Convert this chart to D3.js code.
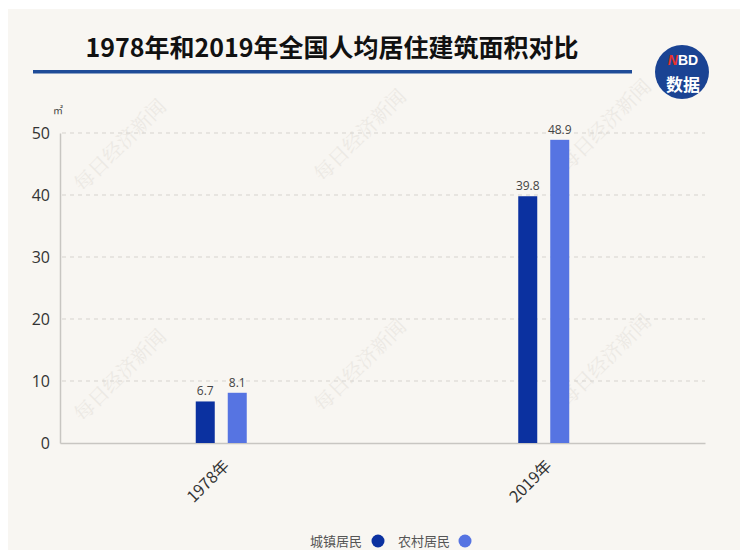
<!DOCTYPE html>
<html><head><meta charset="utf-8">
<script src="https://cdn.jsdelivr.net/npm/d3@7/dist/d3.min.js"></script>
<style>body{margin:0;background:#fff;}svg{display:block;}</style>
</head><body>
<script>
const categories = ["1978年", "2019年"];
const seriesNames = ["城镇居民", "农村居民"];
const urban = [6.7, 39.8];
const rural = [8.1, 48.9];
const yTicks = [0, 10, 20, 30, 40, 50];
const colors = ["#0b31a0", "#5674e2"];

(function () {
const W = 740, H = 550;
const svg = d3.select("body").append("svg").attr("width", W).attr("height", H);
svg.append("rect").attr("x", 8).attr("y", 9).attr("width", W - 8).attr("height", H - 9).attr("fill", "#f8f6f2");

const font = "'Noto Sans CJK SC','Noto Sans',sans-serif";
const pLeft = 60, pRight = 705, pTop = 133, pBottom = 443;
const x = d3.scaleBand().domain(categories).range([pLeft, pRight]);
const y = d3.scaleLinear().domain([0, 50]).range([pBottom, pTop]);

// watermarks
const wm = [[125,150],[365,140],[610,130],[125,380],[365,370],[610,365]];
wm.forEach(([wx, wy]) => {
  svg.append("text").attr("transform", `translate(${wx},${wy}) rotate(-45)`)
    .attr("text-anchor", "middle").attr("font-family", "'Noto Serif CJK SC','Noto Sans CJK SC',serif")
    .attr("font-size", 20).attr("fill", "#ece9e4").text("每日经济新闻");
});

// title
svg.append("text").attr("x", 332).attr("y", 57).attr("text-anchor", "middle")
  .attr("font-family", font).attr("font-weight", "bold").attr("font-size", 25).attr("fill", "#111")
  .text("1978年和2019年全国人均居住建筑面积对比");
svg.append("rect").attr("x", 33).attr("y", 70).attr("width", 599).attr("height", 3.5).attr("fill", "#1f4c98");

// logo
svg.append("circle").attr("cx", 682).attr("cy", 72).attr("r", 27).attr("fill", "#1a4393");
const nbd = svg.append("text").attr("x", 683).attr("y", 65).attr("text-anchor", "middle")
  .attr("font-family", "'Liberation Sans',Arial,sans-serif").attr("font-weight", "bold").attr("font-size", 14);
nbd.append("tspan").attr("fill", "#e8332c").attr("font-style", "italic").text("N");
nbd.append("tspan").attr("fill", "#fff").text("BD");
svg.append("text").attr("x", 683).attr("y", 91).attr("text-anchor", "middle").attr("font-family", font)
  .attr("font-weight", "bold").attr("font-size", 17).attr("fill", "#fff").text("数据");

// grid
svg.append("g").selectAll("line").data(yTicks.filter(d => d > 0)).join("line")
  .attr("x1", pLeft + 2).attr("x2", pRight).attr("y1", d => y(d)).attr("y2", d => y(d))
  .attr("stroke", "#d6d3ce").attr("stroke-dasharray", "4,4").attr("stroke-width", 1);

// y axis
const yAxis = d3.axisLeft(y).tickValues(yTicks).tickSize(0).tickPadding(10);
const ya = svg.append("g").attr("transform", `translate(${pLeft},0)`).call(yAxis);
ya.select(".domain").attr("stroke", "#c8c6c2").attr("stroke-width", 1.5);
ya.selectAll("text").attr("font-family", "'Open Sans','Noto Sans',sans-serif").attr("font-size", 16).attr("fill", "#333");
svg.append("text").attr("x", 53).attr("y", 114).attr("font-family", font).attr("font-size", 10).attr("fill", "#444").text("㎡");

// x axis
const xAxis = d3.axisBottom(x).tickSize(0).tickPadding(0);
const xa = svg.append("g").attr("transform", `translate(0,${pBottom})`).call(xAxis);
xa.select(".domain").attr("stroke", "#c8c6c2").attr("stroke-width", 1.5);
xa.selectAll("text").attr("font-family", font).attr("font-size", 16).attr("fill", "#333")
  .attr("text-anchor", "end").attr("x", 0).attr("y", 0).attr("dy", 0)
  .attr("transform", "translate(9,24) rotate(-45)");

// bars
const barW = 19, gap = 13;
[urban, rural].forEach((vals, si) => {
  const off = si === 0 ? -(gap / 2 + barW) : gap / 2;
  svg.append("g").selectAll("rect").data(vals).join("rect")
    .attr("x", (d, i) => x(categories[i]) + x.bandwidth() / 2 + off)
    .attr("y", d => y(d)).attr("width", barW).attr("height", d => pBottom - y(d))
    .attr("fill", colors[si]);
  svg.append("g").selectAll("text").data(vals).join("text")
    .attr("x", (d, i) => x(categories[i]) + x.bandwidth() / 2 + off + barW / 2)
    .attr("y", d => y(d) - 6).attr("text-anchor", "middle")
    .attr("font-family", "'Open Sans','Noto Sans',sans-serif").attr("font-size", 12).attr("fill", "#444")
    .text(d => d);
});

// legend
const leg = [[310, 378], [398, 465]];
seriesNames.forEach((n, i) => {
  svg.append("text").attr("x", leg[i][0]).attr("y", 546).attr("font-family", font).attr("font-size", 13)
    .attr("fill", "#555").text(n);
  svg.append("circle").attr("cx", leg[i][1]).attr("cy", 541).attr("r", 6.5).attr("fill", colors[i]);
});
})();
</script>
</body></html>
